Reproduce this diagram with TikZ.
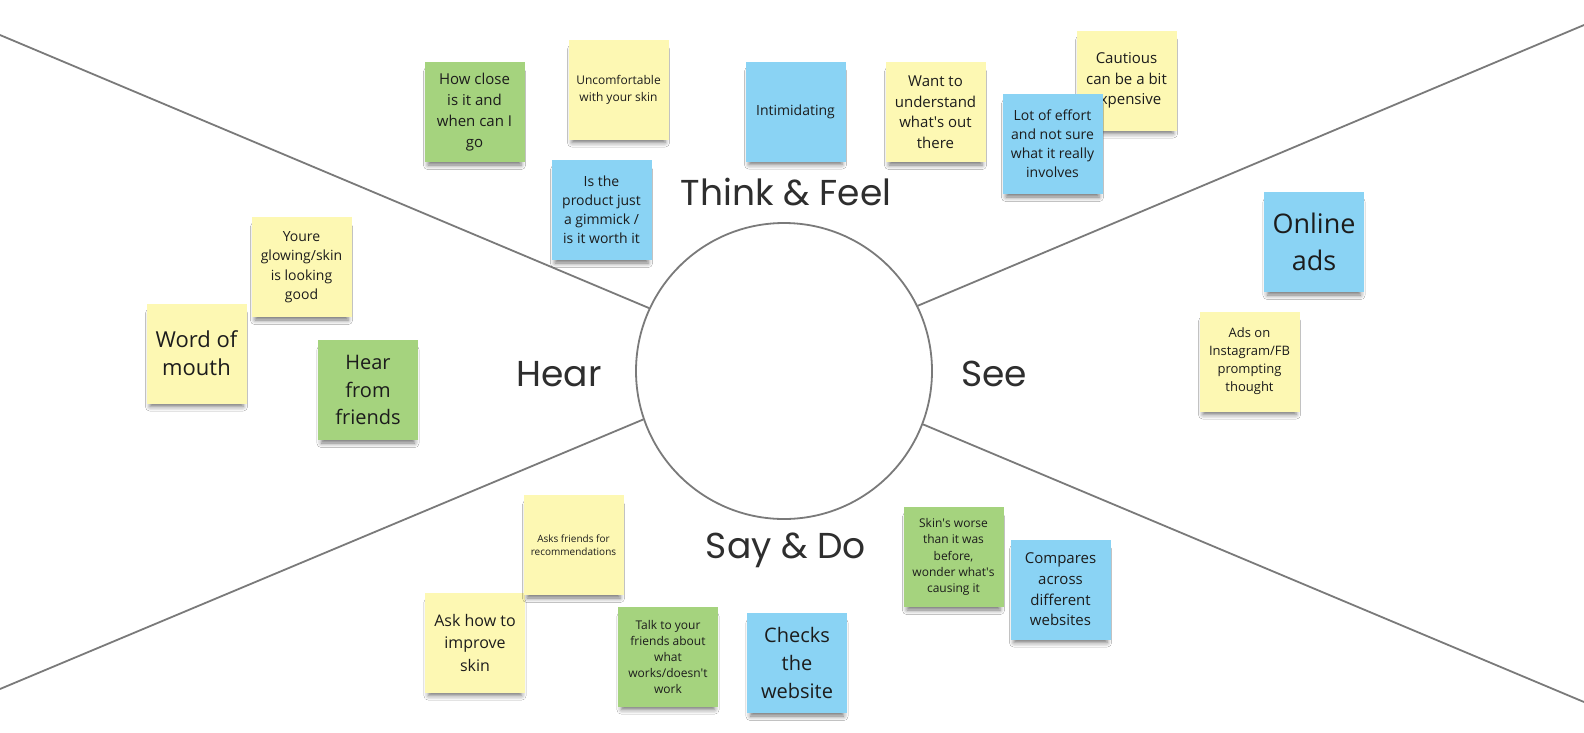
\documentclass[tikz,border=0pt]{standalone}
\usepackage{fontspec}
\setmainfont{Open Sans}
\newfontfamily\labelfont{Poppins}
\usetikzlibrary{shadows.blur}
\definecolor{noteyellow}{HTML}{FDF8B3}
\definecolor{notegreen}{HTML}{A5D37E}
\definecolor{noteblue}{HTML}{8AD3F4}
\definecolor{linegray}{HTML}{7A7A7A}
\definecolor{inktext}{HTML}{1C1C1C}
\definecolor{labeltext}{HTML}{2E2E2E}
\newcommand\nfs[2]{\fontsize{#1}{#2}\selectfont}
\newcommand\aps{\textquotesingle}
\tikzset{
  note/.style={rectangle, minimum width=100pt, minimum height=100pt, inner sep=0pt,
    align=center, text=inktext,
    blur shadow={shadow xshift=0pt, shadow yshift=-7pt, shadow blur radius=5pt, shadow opacity=55, shadow scale=0.93}},
  yel/.style={note, fill=noteyellow},
  grn/.style={note, fill=notegreen},
  blu/.style={note, fill=noteblue},
  quad/.style={text=labeltext, font=\labelfont\nfs{36}{40}},
  spoke/.style={draw=linegray, line width=1.8pt}
}
\begin{document}
\begin{tikzpicture}[x=1pt,y=-1pt]
\useasboundingbox (0,0) rectangle (1584,732);
\fill[white] (0,0) rectangle (1584,732);
% centre circle and spokes
\node[circle, draw=linegray, line width=1.8pt, minimum size=296pt, inner sep=0pt] (C) at (784,371) {};
\coordinate (tl) at (0,35);
\coordinate (tr) at (1584,25);
\coordinate (bl) at (0,689);
\coordinate (br) at (1584,702);
\draw[spoke] (tl) -- (C.155.5);
\draw[spoke] (tr) -- (C.26.2);
\draw[spoke] (bl) -- (C.199.5);
\draw[spoke] (br) -- (C.-21.2);
% quadrant labels
\node[quad] (think) at (786,192) {Think \& Feel};
\node[quad] (hear) at (559,374) {Hear};
\node[quad] (see) at (994,374) {See};
\node[quad] (say) at (786,550) {Say \& Do};
% Think & Feel notes
\node[grn, font=\nfs{15}{21}] (howclose) at (474.5,112) {How close\\is it and\\when can I\\go};
\node[yel, font=\nfs{12}{17}] (uncomf) at (618.5,89.5) {Uncomfortable\\with your skin};
\node[blu, font=\nfs{14}{19}] (gimmick) at (601.5,210) {Is the\\product just\\a gimmick /\\is it worth it};
\node[blu, font=\nfs{14}{19}] (intim) at (795.5,111.5) {Intimidating};
\node[yel, font=\nfs{15}{20.5}] (wantto) at (935.5,112) {Want to\\understand\\what\aps s out\\there};
\node[yel, font=\nfs{15}{20.5}] (cautious) at (1126.5,80.5) {Cautious\\can be a bit\\expensive};
\node[blu, font=\nfs{14}{19}] (effort) at (1052.5,144) {Lot of effort\\and not sure\\what it really\\involves};
% Hear notes
\node[yel, font=\nfs{14}{19.5}] (glowing) at (301.5,267) {Youre\\glowing/skin\\is looking\\good};
\node[yel, font=\nfs{22}{28}] (wom) at (196.5,353.5) {Word of\\mouth};
\node[grn, font=\nfs{20}{27.5}] (hearfr) at (368,390) {Hear\\from\\friends};
% Say & Do notes
\node[yel, font=\nfs{16}{22.5}] (askhow) at (475,642.5) {Ask how to\\improve\\skin};
\node[yel, font=\nfs{10}{13.3}] (asksfr) at (573.5,545) {Asks friends for\\recommendations};
\node[grn, font=\nfs{12}{16}] (talk) at (668,656.5) {Talk to your\\friends about\\what\\works/doesn\aps t\\work};
\node[blu, font=\nfs{20}{28}] (checks) at (797,663) {Checks\\the\\website};
\node[grn, font=\nfs{12}{16.3}] (worse) at (953.5,557) {Skin\aps s worse\\than it was\\before,\\wonder what\aps s\\causing it};
\node[blu, font=\nfs{15}{20.7}] (compares) at (1060.5,589.5) {Compares\\across\\different\\websites};
% See notes
\node[blu, font=\nfs{27}{37}] (online) at (1314,242) {Online\\ads};
\node[yel, font=\nfs{13}{18}] (insta) at (1249.5,361.5) {Ads on\\Instagram/FB\\prompting\\thought};
\end{tikzpicture}
\end{document}
